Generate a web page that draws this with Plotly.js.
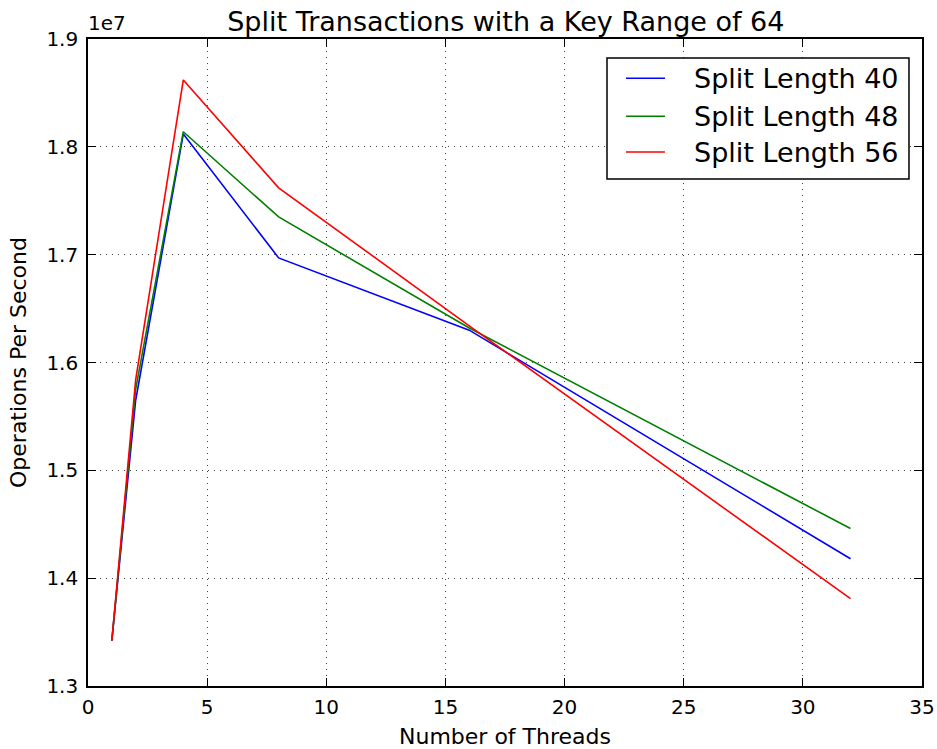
<!DOCTYPE html>
<html>
<head>
<meta charset="utf-8">
<script src="https://cdn.plot.ly/plotly-3.0.1.min.js"></script>
<style>body{margin:0;padding:0;background:#fff;}#chart{width:937px;height:749px;}</style>
</head>
<body>
<div id="chart"></div>
<script>
const threads = [1, 2, 4, 8, 16, 32];
const seriesNames = ["Split Length 40", "Split Length 48", "Split Length 56"];
const split40 = [13420000, 15650000, 18120000, 16970000, 16300000, 14180000];
const split48 = [13420000, 15750000, 18140000, 17350000, 16320000, 14460000];
const split56 = [13420000, 15840000, 18620000, 17620000, 16340000, 13810000];
const colors = ["#0000ff", "#008000", "#ff0000"];
const xTicks = [0, 5, 10, 15, 20, 25, 30, 35];
const yTicks = [13000000, 14000000, 15000000, 16000000, 17000000, 18000000, 19000000];
const yTickText = ["1.3", "1.4", "1.5", "1.6", "1.7", "1.8", "1.9"];

const data = [split40, split48, split56].map((ys, i) => ({
  x: threads, y: ys, type: "scatter", mode: "lines", name: seriesNames[i],
  showlegend: false,
  line: {color: colors[i], width: 1.6}
}));

const font = {family: "DejaVu Sans, sans-serif", color: "#000"};
const axisCommon = {
  ticks: "inside", ticklen: 8, tickwidth: 1, tickcolor: "#000", mirror: "allticks",
  showline: true, linecolor: "#000", linewidth: 1.6,
  showgrid: true, gridcolor: "#444", griddash: "1px,5px", gridwidth: 1,
  zeroline: false, automargin: false, tickfont: Object.assign({size: 20}, font)
};

// Legend drawn in paper coordinates (matplotlib-style box)
const legBox = {x0: 0.6223, x1: 0.9844, y0: 0.7836, y1: 0.9706};
const legRows = [0.9394, 0.8807, 0.8253];
const shapes = [{
  type: "rect", xref: "paper", yref: "paper", x0: legBox.x0, x1: legBox.x1, y0: legBox.y0, y1: legBox.y1,
  line: {color: "#000", width: 1.5}, fillcolor: "#fff", layer: "above"
}];
const annotations = [{
  text: "1e7", xref: "paper", yref: "paper", x: 0, y: 1, xanchor: "left", yanchor: "bottom",
  showarrow: false, font: Object.assign({size: 20}, font), yshift: 2, xshift: -2
}];
seriesNames.forEach((nm, i) => {
  shapes.push({type: "line", xref: "paper", yref: "paper", x0: 0.6451, x1: 0.6918, y0: legRows[i], y1: legRows[i],
    line: {color: colors[i], width: 1.6}, layer: "above"});
  annotations.push({text: nm, xref: "paper", yref: "paper", x: 0.7266, y: legRows[i], xanchor: "left", yanchor: "middle",
    showarrow: false, font: Object.assign({size: 27}, font), xshift: -2});
});

const layout = {
  width: 937, height: 749,
  margin: {l: 88, r: 15, t: 39, b: 63},
  paper_bgcolor: "#fff", plot_bgcolor: "#fff",
  font: Object.assign({size: 20}, font),
  showlegend: false,
  title: {text: "Split Transactions with a Key Range of 64", font: Object.assign({size: 27}, font),
          x: 0.501, xanchor: "center", xref: "paper", y: 0.971, yanchor: "middle", yref: "container"},
  xaxis: Object.assign({}, axisCommon, {
    range: [0, 35], tickvals: xTicks, ticktext: xTicks.map(String), ticklabelstandoff: 2,
    title: {text: "Number of Threads", font: Object.assign({size: 22}, font), standoff: 11}
  }),
  yaxis: Object.assign({}, axisCommon, {
    range: [13000000, 19000000], tickvals: yTicks, ticktext: yTickText, ticklabelstandoff: 4,
    title: {text: "Operations Per Second", font: Object.assign({size: 22}, font), standoff: 14}
  }),
  shapes: shapes,
  annotations: annotations
};
Plotly.newPlot("chart", data, layout, {displayModeBar: false});
</script>
</body>
</html>
